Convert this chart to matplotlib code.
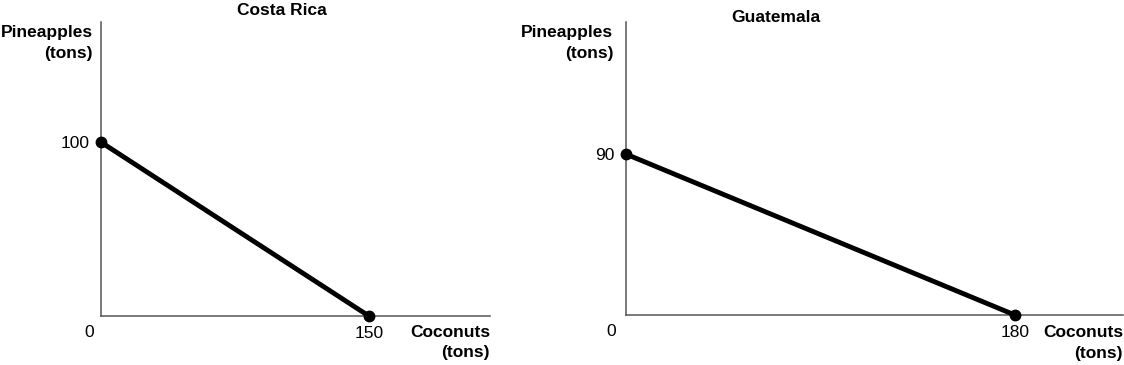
import matplotlib.pyplot as plt

plt.rcParams['font.family'] = ['Liberation Sans', 'DejaVu Sans']

# Production possibilities for each country (coconuts, pineapples)
countries = ["Costa Rica", "Guatemala"]
coconuts_max = [150, 180]
pineapples_max = [100, 90]
x_limits = [217.7, 230]
y_limits = [169, 164]

# layout in figure fractions (left, bottom, width, height)
axes_boxes = [[0.0899, 0.134, 0.346, 0.805], [0.557, 0.137, 0.442, 0.803]]
title_pos = [(0.465, 1.041), (0.302, 1.014)]
ylabel_pos = [(-0.021, 0.930), (-0.026, 0.928)]
xlabel_pos = [(1.0, -0.090), (1.0, -0.096)]

fig = plt.figure(figsize=(11.24, 3.65), dpi=100)

for i, name in enumerate(countries):
    ax = fig.add_axes(axes_boxes[i])
    xs = [0, coconuts_max[i]]
    ys = [pineapples_max[i], 0]
    ax.plot(xs, ys, color='black', lw=3.5, solid_capstyle='round',
            marker='o', markersize=7.5, clip_on=False, zorder=5)

    ax.set_xlim(0, x_limits[i])
    ax.set_ylim(0, y_limits[i])
    for s in ['top', 'right']:
        ax.spines[s].set_visible(False)
    for s in ['left', 'bottom']:
        ax.spines[s].set_color('#555555')
        ax.spines[s].set_linewidth(1.1)

    ax.set_xticks([coconuts_max[i]])
    ax.set_xticklabels([str(coconuts_max[i])], fontsize=12.5)
    ax.set_yticks([pineapples_max[i]])
    ax.set_yticklabels([str(pineapples_max[i])], fontsize=12.5)
    ax.tick_params(axis='both', length=0)
    ax.tick_params(axis='x', pad=7)
    ax.tick_params(axis='y', pad=8)

    # origin label
    ax.text(-0.03, -0.055, "0", transform=ax.transAxes, fontsize=12.5,
            ha='center', va='center')

    ax.text(title_pos[i][0], title_pos[i][1], name, transform=ax.transAxes,
            fontsize=12.5, fontweight='bold', ha='center', va='center')
    ax.text(ylabel_pos[i][0], ylabel_pos[i][1], "Pineapples\n(tons)",
            transform=ax.transAxes, fontsize=12.5, fontweight='bold',
            ha='right', va='center', multialignment='right', linespacing=1.45)
    ax.text(xlabel_pos[i][0], xlabel_pos[i][1], "Coconuts\n(tons)",
            transform=ax.transAxes, fontsize=12.5, fontweight='bold',
            ha='right', va='center', multialignment='right', linespacing=1.45)

fig.savefig('out.png', dpi=100)
